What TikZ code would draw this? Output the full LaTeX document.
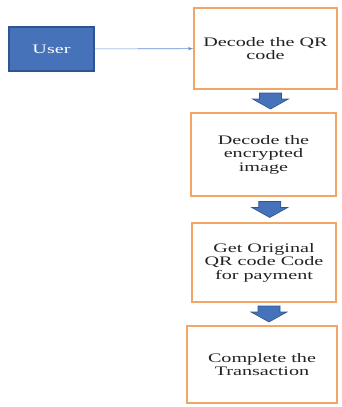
\documentclass[tikz,border=0pt]{standalone}
\usepackage{fontspec}
\setmainfont[FakeStretch=1.55]{Liberation Serif}
\usepackage{tikz}
\usetikzlibrary{calc, arrows, shapes}
\tikzset{>=latex}
\definecolor{myorange}{RGB}{241, 166, 104}
\definecolor{myblue}{RGB}{70, 114, 186}
\definecolor{myblue2}{RGB}{47, 84, 146}
\definecolor{mylineblue}{RGB}{98, 145, 205}
\definecolor{mytext}{RGB}{35, 35, 35}

\begin{document}
\begin{tikzpicture}[x=1pt, y=-1pt,
  stepbox/.style = {draw=myorange, line width=1.8pt, fill=white, align=center,
    text=mytext, font=\fontsize{13}{13.5}\selectfont, inner sep=0pt},
  userbox/.style = {draw=myblue2, line width=1.2pt, fill=myblue, text=white,
    font=\fontsize{13}{13.5}\selectfont, minimum width=85pt, minimum height=44pt},
  bigarrow/.style = {draw=myblue2, line width=0.6pt, fill=myblue}]
\useasboundingbox (0,0) rectangle (341,407);

\node[userbox] (user) at (51.5, 49) {User};
\node[stepbox, minimum width=143pt, minimum height=81pt] (d1) at (265.5, 48.5) {Decode the QR\\code};
\node[stepbox, minimum width=145pt, minimum height=83pt] (d2) at (263.5, 154.5) {Decode the\\encrypted\\image};
\node[stepbox, minimum width=144pt, minimum height=79pt] (d3) at (264, 262.5) {Get Original\\QR code Code\\for payment};
\node[stepbox, minimum width=150pt, minimum height=77pt] (d4) at (262, 364.5) {Complete the\\Transaction};

\draw[mylineblue, line width=0.6pt, ->] (user) -- (d1);

% block arrows between the steps
\foreach \a/\b in {d1/d2, d2/d3, d3/d4} {
  \coordinate (m) at ($(\a.south)!0.5!(\b.north)$);
  \draw[bigarrow] ($(m)+(-5,-8)$) -- ++(22,0) -- ++(0,6) -- ++(7,0)
    -- ($(m)+(6,8)$) -- ($(m)+(-12,-2)$) -- ++(7,0) -- cycle;
}

\end{tikzpicture}
\end{document}
